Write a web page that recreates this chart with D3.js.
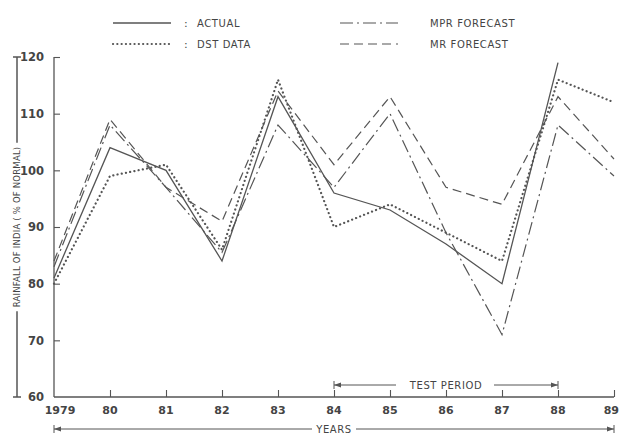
<!DOCTYPE html>
<html>
<head>
<meta charset="utf-8">
<script src="https://cdn.jsdelivr.net/npm/d3@7"></script>
<style>
  body { margin: 0; background: #fff; }
  svg { display: block; }
  text { font-family: "DejaVu Sans", sans-serif; fill: #444; }
</style>
</head>
<body>
<svg id="chart"></svg>
<script>
const years = [1979, 1980, 1981, 1982, 1983, 1984, 1985, 1986, 1987, 1988, 1989];
const yearLabels = ["1979", "80", "81", "82", "83", "84", "85", "86", "87", "88", "89"];
const yTicks = [60, 70, 80, 90, 100, 110, 120];

// rainfall, % of normal (actual ends at 1988)
const actual = [81, 104, 100, 84, 113, 96, 93, 87, 80, 119, null];
const dstData = [80, 99, 101, 86, 116, 90, 94, 89, 84, 116, 112];
const mprForecast = [83, 108, 97, 85.5, 108, 97, 110, 89, 71, 108, 99];
const mrForecast = [84, 109, 97, 91, 114, 101, 113, 97, 94, 113, 102];

const testPeriod = [1984, 1988];

const width = 620;
const height = 437;
const margin = { top: 57, right: 5, bottom: 40, left: 54 };

const series = [
  { name: "ACTUAL", values: actual, dash: null, width: 1.3 },
  { name: "DST DATA", values: dstData, dash: "0.1,4.2", width: 2.2, cap: "round" },
  { name: "MPR FORECAST", values: mprForecast, dash: "13,4,2,4", width: 1.2 },
  { name: "MR FORECAST", values: mrForecast, dash: "9,5", width: 1.2 }
];

const svg = d3.select("#chart").attr("width", width).attr("height", height);

const xScale = d3.scaleLinear()
  .domain([1979, 1989])
  .range([margin.left, width - margin.right - 1]);

const yScale = d3.scaleLinear()
  .domain([60, 120])
  .range([height - margin.bottom, margin.top]);

const ink = "#555";

// axes
const xAxis = d3.axisBottom(xScale)
  .tickValues(years.slice(1))
  .tickSize(-7)
  .tickFormat("");
const gx = svg.append("g")
  .attr("transform", `translate(0, ${yScale(60)})`)
  .call(xAxis);
gx.select(".domain").attr("stroke", ink).attr("stroke-width", 1.3).attr("d", `M${xScale(1979)},0H${xScale(1989)}`);
gx.selectAll(".tick line").attr("stroke", ink).attr("stroke-width", 1.1);

svg.append("g").selectAll("text")
  .data(years)
  .join("text")
  .attr("x", d => d === 1989 ? width - 1 : xScale(d) + (d === 1979 ? 6 : 0))
  .attr("y", yScale(60) + 17)
  .attr("text-anchor", d => d === 1989 ? "end" : "middle")
  .attr("font-size", 11)
  .attr("font-weight", "bold")
  .text((d, i) => yearLabels[i]);

const yAxis = d3.axisLeft(yScale)
  .tickValues(yTicks)
  .tickSize(-6)
  .tickPadding(10)
  .tickFormat(d3.format("d"));
const gy = svg.append("g")
  .attr("transform", `translate(${margin.left}, 0)`)
  .call(yAxis);
gy.select(".domain").attr("stroke", ink).attr("stroke-width", 1.3).attr("d", `M0,${yScale(60)}V${yScale(120)}`);
gy.selectAll(".tick line").attr("stroke", ink).attr("stroke-width", 1.1);
gy.selectAll(".tick").filter(d => d === 60).select("line").remove();
gy.selectAll(".tick text")
  .attr("font-size", 11.5)
  .attr("font-weight", "bold")
  .attr("font-family", "DejaVu Sans, sans-serif")
  .attr("fill", "#444");

// lines
const line = d3.line()
  .defined(d => d != null)
  .x((d, i) => xScale(years[i]))
  .y(d => yScale(d));

svg.append("g").selectAll("path")
  .data(series)
  .join("path")
  .attr("fill", "none")
  .attr("stroke", ink)
  .attr("stroke-width", d => d.width)
  .attr("stroke-dasharray", d => d.dash)
  .attr("stroke-linecap", d => d.cap || "butt")
  .attr("stroke-linejoin", "miter")
  .attr("d", d => line(d.values));

// legend
const legend = [
  { s: series[0], x: 113, y: 23, colon: true },
  { s: series[1], x: 113, y: 44, colon: true },
  { s: series[2], x: 340, y: 23, colon: false },
  { s: series[3], x: 340, y: 44, colon: false }
];
const lg = svg.append("g").selectAll("g").data(legend).join("g");
lg.append("line")
  .attr("x1", d => d.x).attr("x2", d => d.x + 58)
  .attr("y1", d => d.y).attr("y2", d => d.y)
  .attr("stroke", ink)
  .attr("stroke-width", d => d.s.width)
  .attr("stroke-dasharray", d => d.s.dash)
  .attr("stroke-linecap", d => d.s.cap || "butt");
lg.filter(d => d.colon).append("text")
  .attr("x", d => d.x + 71).attr("y", d => d.y + 4)
  .attr("font-size", 11)
  .text(":");
lg.append("text")
  .attr("x", d => d.x + (d.colon ? 84 : 90)).attr("y", d => d.y + 4)
  .attr("font-size", 10)
  .attr("letter-spacing", 0.6)
  .attr("fill", "#666")
  .text(d => d.s.name);

// y axis title with bracket
const bx = 17;
const ty = (yScale(60) + yScale(120)) / 2;
const title = svg.append("text")
  .attr("transform", `translate(${bx + 3}, ${ty}) rotate(-90)`)
  .attr("text-anchor", "middle")
  .attr("font-size", 8.5)
  .attr("letter-spacing", 0.2)
  .text("RAINFALL OF INDIA ( % OF NORMAL)");
const half = title.node().getComputedTextLength() / 2 + 4;
svg.append("path")
  .attr("fill", "none").attr("stroke", ink).attr("stroke-width", 1.5)
  .attr("d", `M${bx},${yScale(120)}V${ty - half}M${bx},${ty + half}V${yScale(60)}` +
    `M${bx - 4},${yScale(120)}H${bx + 4}M${bx - 4},${yScale(60)}H${bx + 4}`);

// test period marker
const tpY = yScale(60) - 12;
const tpX0 = xScale(testPeriod[0]);
const tpX1 = xScale(testPeriod[1]);
const tpMid = (tpX0 + tpX1) / 2;
svg.append("path")
  .attr("fill", "none").attr("stroke", ink).attr("stroke-width", 1)
  .attr("d", `M${tpX0},${tpY - 4}V${tpY + 4}M${tpX0},${tpY}H${tpMid - 50}M${tpMid + 48},${tpY}H${tpX1}M${tpX1},${tpY - 4}V${tpY + 4}`);
svg.append("path").attr("fill", ink)
  .attr("d", `M${tpX0},${tpY}l7,-2.5v5zM${tpX1},${tpY}l-7,-2.5v5z`);
svg.append("text")
  .attr("x", tpMid).attr("y", tpY + 4)
  .attr("text-anchor", "middle")
  .attr("font-size", 10)
  .attr("letter-spacing", 0.6)
  .text("TEST PERIOD");

// years span
const yrY = height - 8;
const yrMid = (xScale(1979) + xScale(1989)) / 2;
svg.append("path")
  .attr("fill", "none").attr("stroke", ink).attr("stroke-width", 1)
  .attr("d", `M${xScale(1979)},${yrY - 4}V${yrY + 4}M${xScale(1979)},${yrY}H${yrMid - 22}M${yrMid + 22},${yrY}H${xScale(1989)}M${xScale(1989)},${yrY - 4}V${yrY + 4}`);
svg.append("path").attr("fill", ink)
  .attr("d", `M${xScale(1979)},${yrY}l7,-2.5v5zM${xScale(1989)},${yrY}l-7,-2.5v5z`);
svg.append("text")
  .attr("x", yrMid).attr("y", yrY + 4)
  .attr("text-anchor", "middle")
  .attr("font-size", 10)
  .attr("letter-spacing", 0.6)
  .text("YEARS");
</script>
</body>
</html>
